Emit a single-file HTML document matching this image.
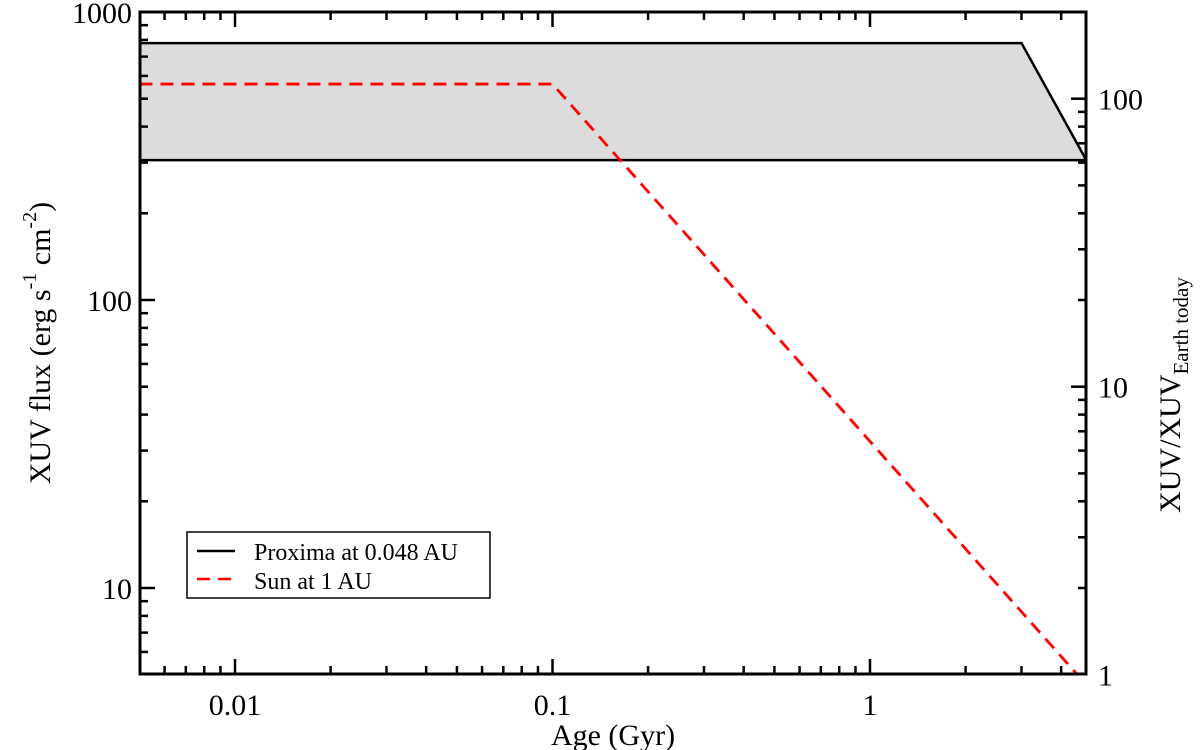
<!DOCTYPE html>
<html><head><meta charset="utf-8"><style>
body{margin:0;background:#fff}
svg{display:block;font-family:"Liberation Serif",serif}
</style></head><body>
<svg id="c" width="1200" height="750"></svg>
<script>
const proximaAge=[0.005,3.0,4.8];
const proximaHigh=[780,780,306];
const proximaLow=[306,306,306];
const sunAge=[0.005,0.1,4.5];
const sunFlux=[562,562,5];
const xTickVals=[0.01,0.1,1];
const xTickLabels=["0.01","0.1","1"];
const yTickVals=[10,100,1000];
const yTickLabels=["10","100","1000"];
const y2TickVals=[1,10,100];
const y2TickLabels=["1","10","100"];

const NS="http://www.w3.org/2000/svg";
const svg=document.getElementById('c');
const L=140,R=1086,T=12,B=674;
function xs(v){return 235+Math.log10(v/0.01)*317.5;}
function ys(v){return 12+(3-Math.log10(v))*288;}
function y2s(v){return ys(v*5);}
function mk(tag,attrs,parent){const e=document.createElementNS(NS,tag);for(const k in attrs)e.setAttribute(k,attrs[k]);(parent||svg).appendChild(e);return e;}

const defs=mk('defs',{});
const cp=mk('clipPath',{id:'pc'},defs);
mk('rect',{x:L,y:T,width:R-L,height:B-T},cp);
const g=mk('g',{'clip-path':'url(#pc)'});



let d='';
proximaAge.forEach((a,i)=>{d+=(i?'L':'M')+xs(a)+','+ys(proximaHigh[i]);});
for(let i=proximaAge.length-1;i>=0;i--)d+='L'+xs(proximaAge[i])+','+ys(proximaLow[i]);
const band=mk('path',{d:d+'Z',fill:'#dcdcdc',stroke:'none'},g);


function line(xa,ya,attrs,name){let p='';xa.forEach((a,i)=>{p+=(i?'L':'M')+xs(a)+','+ys(ya[i]);});const e=mk('path',Object.assign({d:p,fill:'none'},attrs),g);return e;}
line(proximaAge,proximaHigh,{stroke:'#000','stroke-width':2.5},'proxima-upper-line');
line(proximaAge,proximaLow,{stroke:'#000','stroke-width':2.5},'proxima-lower-line');
line(sunAge,sunFlux,{stroke:'#ff0000','stroke-width':2.8,'stroke-dasharray':'13,8'},'sun-line');

const fr=mk('rect',{x:L,y:T,width:R-L,height:B-T,fill:'none',stroke:'#000','stroke-width':3});



const tg=mk('g',{stroke:'#000','stroke-width':2.5});


function tk(x1,y1,x2,y2){mk('line',{x1,y1,x2,y2},tg);}
for(let e=-3;e<=0;e++){for(let m=1;m<=9;m++){const v=m*Math.pow(10,e);const x=xs(v);if(x<L+1||x>R-1)continue;const len=m===1?15:8;tk(x,B,x,B-len);tk(x,T,x,T+len);}}
for(let e=0;e<=2;e++){for(let m=1;m<=9;m++){const v=m*Math.pow(10,e);const y=ys(v);if(y>B-1||y<T+1)continue;tk(L,y,L+(m===1?15:8),y);}}
for(let e=0;e<=2;e++){for(let m=1;m<=9;m++){const v=m*Math.pow(10,e);const y=y2s(v);if(y>B-1||y<T+1)continue;tk(R,y,R-(m===1?15:8),y);}}

function txt(s,attrs,name){const e=mk('text',Object.assign({'font-size':30,fill:'#000'},attrs));e.textContent=s;return e;}
xTickVals.forEach((v,i)=>txt(xTickLabels[i],{x:xs(v),y:715,'text-anchor':'middle'},'x-tick-label'));
yTickVals.forEach((v,i)=>txt(yTickLabels[i],{x:132,y:ys(v)+11,'text-anchor':'end'},'y-tick-label'));
y2TickVals.forEach((v,i)=>txt(y2TickLabels[i],{x:1098,y:y2s(v)+11,'text-anchor':'start'},'y2-tick-label'));

txt('Age (Gyr)',{x:613,y:745,'text-anchor':'middle','font-size':30},'x-axis-title');
const yt=mk('text',{transform:'translate(50,343) rotate(-90)','text-anchor':'middle','font-size':30});


yt.innerHTML='XUV flux (erg s<tspan dy="-14" font-size="20">-1</tspan><tspan dy="14"> cm</tspan><tspan dy="-14" font-size="20">-2</tspan><tspan dy="14">)</tspan>';
const y2t=mk('text',{transform:'translate(1180,395) rotate(-90)','text-anchor':'middle','font-size':30});


y2t.innerHTML='XUV/XUV<tspan dy="8" font-size="21">Earth today</tspan>';

const lg=mk('g',{});


mk('rect',{x:187,y:532,width:303,height:66,fill:'#fff',stroke:'#000','stroke-width':1.5},lg);
mk('line',{x1:197,y1:551,x2:235,y2:551,stroke:'#000','stroke-width':2.5},lg);
mk('line',{x1:197,y1:579,x2:235,y2:579,stroke:'#ff0000','stroke-width':2.5,'stroke-dasharray':'13,8'},lg);
const l1=mk('text',{x:254,y:560,'font-size':24},lg);l1.textContent='Proxima at 0.048 AU';


const l2=mk('text',{x:254,y:589,'font-size':24},lg);l2.textContent='Sun at 1 AU';


</script>
</body></html>
